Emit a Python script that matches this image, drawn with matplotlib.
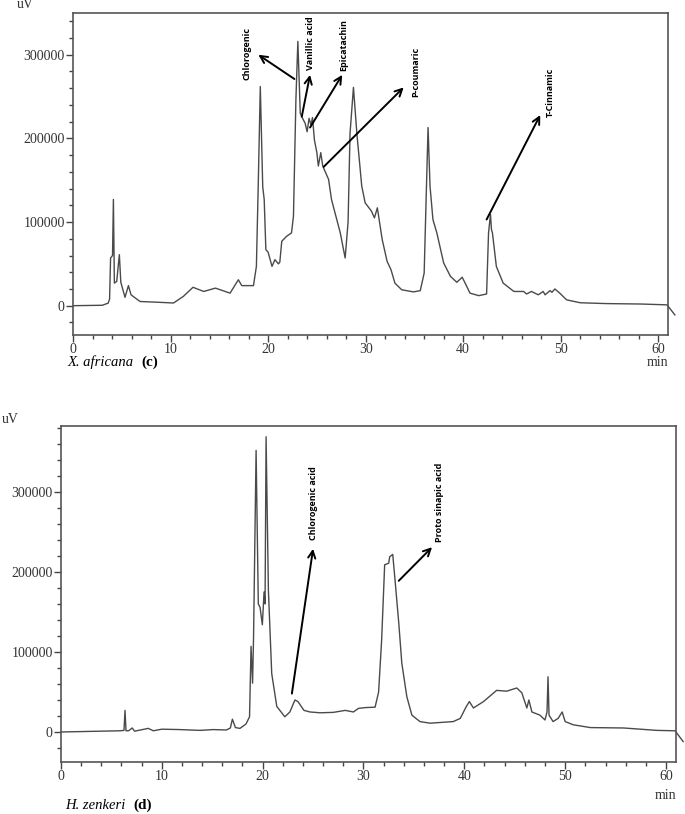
import numpy as np
import matplotlib
matplotlib.use("Agg")
import matplotlib.pyplot as plt

# X. africana (c) chromatogram (min, uV)
xa_time = [0, 3.0, 3.6, 3.75, 3.85, 4.05, 4.14, 4.24, 4.48, 4.75,
           4.9, 5.33, 5.68, 5.95, 6.87, 8.9, 10.3, 11.3, 12.3, 13.4,
           14.6, 16.1, 16.95, 17.3, 18.5, 18.8, 19.0, 19.2, 19.45, 19.6,
           19.77, 20.0, 20.4, 20.7, 21.06, 21.2, 21.4, 21.9, 22.4, 22.6,
           22.85, 23.05, 23.3, 23.45, 23.8, 24.0, 24.2, 24.4, 24.55, 24.75,
           25.0, 25.15, 25.4, 25.6, 26.2, 26.5, 27.4, 27.9, 28.2, 28.4,
           28.75, 29.1, 29.6, 29.95, 30.6, 30.9, 31.2, 31.7, 32.2, 32.6,
           33.0, 33.7, 34.9, 35.6, 36.0, 36.2, 36.4, 36.6, 36.9, 37.3,
           38.0, 38.7, 39.35, 39.9, 40.2, 40.7, 41.6, 42.4, 42.6, 42.8,
           42.9, 43.0, 43.4, 44.1, 45.2, 46.2, 46.5, 47.0, 47.7, 48.2,
           48.4, 48.9, 49.1, 49.4, 49.9, 50.6, 52.0, 54.7, 58.2, 60.9,
           61.7]
xa_uv = [0, 500, 3000, 8000, 57000, 60000, 127000, 27000, 29000, 61000,
         28000, 10000, 24000, 13000, 5000, 4000, 3200, 11000, 22000, 17000,
         21000, 15000, 31000, 24000, 24000, 47000, 150000, 262000, 142000, 127000,
         67000, 64000, 47000, 55000, 50000, 52000, 77000, 83000, 87000, 107000,
         246000, 316000, 230000, 226000, 218000, 208000, 224000, 216000, 225000, 198000,
         183000, 167000, 183000, 167000, 151000, 127000, 87000, 57000, 100000, 206000,
         261000, 206000, 143000, 123000, 113000, 105000, 117000, 79000, 53000, 43000,
         27000, 19000, 16500, 18000, 39000, 127000, 213000, 143000, 103000, 87000,
         51000, 35000, 28000, 34000, 27000, 15000, 12000, 14000, 87000, 109000,
         91000, 87000, 47000, 27000, 17000, 17000, 14000, 17000, 13000, 17000,
         13000, 18000, 16000, 20000, 15000, 7000, 3500, 2500, 2000, 1000,
         -11000]

# H. zenkeri (d) chromatogram
hz_time = [0, 5.85, 6.25, 6.35, 6.45, 6.7, 7.07, 7.3, 8.66, 9.16,
           10.0, 11.8, 13.8, 15.1, 16.4, 16.8, 17.0, 17.3, 17.75, 18.35,
           18.7, 18.85, 19.0, 19.1, 19.35, 19.57, 19.74, 19.97, 20.14, 20.24,
           20.34, 20.57, 20.9, 21.4, 22.2, 22.7, 23.2, 23.5, 24.1, 24.7,
           25.7, 27.0, 28.2, 29.0, 29.5, 30.2, 31.15, 31.5, 31.8, 32.1,
           32.5, 32.6, 32.9, 33.1, 33.5, 33.8, 34.3, 34.8, 35.6, 36.6,
           38.9, 39.6, 40.2, 40.5, 40.9, 41.9, 43.2, 44.2, 45.2, 45.7,
           46.2, 46.4, 46.7, 47.5, 48.0, 48.2, 48.3, 48.4, 48.8, 49.3,
           49.7, 50.0, 50.8, 52.5, 55.8, 59.1, 60.9, 61.7]
hz_uv = [0, 1500, 2000, 27000, 1500, 1500, 5000, 1000, 4500, 1500,
         3500, 3000, 2000, 3000, 2500, 5000, 16000, 5500, 4500, 10000,
         19000, 107000, 61000, 120000, 352000, 160000, 156000, 134000, 175000, 160000,
         369000, 177000, 73000, 32000, 19000, 25000, 40000, 38000, 27000, 25000,
         24000, 24500, 27000, 25000, 29500, 30500, 31000, 50000, 115000, 209000,
         211000, 219000, 222000, 194000, 136000, 86000, 44000, 21000, 13000, 11000,
         13000, 17000, 32000, 38000, 30000, 38000, 52000, 51000, 55000, 49000,
         30000, 40000, 25000, 21000, 15000, 25000, 69000, 21000, 13000, 17000,
         25000, 13000, 9000, 5500, 5000, 2000, 1500, -12000]

# compound labels: name, text position (min, uV), arrow tail, arrow head
xa_names = ['Chlorogenic', 'Vanillic acid', 'Epicatachin', 'P-coumaric', 'T-Cinnamic']
xa_text_pos = [(17.85, 270000), (24.3, 282000), (27.8, 280000), (35.1, 250000), (48.9, 225000)]
xa_tails = [(22.7, 271000), (23.45, 226000), (24.3, 213000), (25.7, 166000), (42.4, 103000)]
xa_heads = [(19.0, 300000), (24.3, 276000), (27.6, 276000), (33.9, 261000), (47.9, 228000)]

hz_names = ['Chlorogenic acid', 'Proto sinapic acid']
hz_text_pos = [(25.0, 240000), (37.5, 238000)]
hz_tails = [(22.9, 48000), (33.5, 189000)]
hz_heads = [(25.0, 229000), (36.8, 231000)]

serif = 'Liberation Serif'
line_col = '#4a4a4a'


def style_axes(ax, ylim, ymax_tick):
    ax.set_xlim(0, 61)
    ax.set_ylim(*ylim)
    ax.set_xticks(np.arange(0, 61, 10))
    ax.set_xticks(np.arange(0, 61, 2), minor=True)
    ax.set_yticks(np.arange(0, ymax_tick + 1, 100000))
    ax.set_yticks(np.arange(-20000, ylim[1], 20000), minor=True)
    ax.tick_params(which='both', direction='out', colors='#444444', width=1.0,
                   labelsize=10, pad=1)
    ax.tick_params(which='major', length=5)
    ax.tick_params(which='minor', length=3)
    for lab in ax.get_xticklabels() + ax.get_yticklabels():
        lab.set_fontfamily(serif)
        lab.set_color('#333333')
    for sp in ax.spines.values():
        sp.set_color('#555555')
        sp.set_linewidth(1.2)


def add_labels(ax, names, text_pos, tails, heads):
    for name, tp, tail, head in zip(names, text_pos, tails, heads):
        ax.text(tp[0], tp[1], name, rotation=90, ha='center', va='bottom',
                fontsize=6.5, fontweight='bold', family='Open Sans')
        ax.annotate('', xy=head, xytext=tail,
                    arrowprops=dict(arrowstyle='->', lw=1.4, color='black',
                                    mutation_scale=13, shrinkA=0, shrinkB=0))


def add_caption(fig, x, y, species, tag):
    t = fig.text(x, y, species, family=serif, style='italic', fontsize=10.5, va='center')
    fig.canvas.draw()
    bb = t.get_window_extent().transformed(fig.transFigure.inverted())
    fig.text(bb.x1 + 0.012, y, tag, family=serif, fontweight='bold', fontsize=11, va='center')


fig = plt.figure(figsize=(6.85, 8.14), dpi=100)

ax1 = fig.add_axes([0.1066, 0.5885, 0.8686, 0.3956])
ax1.plot(xa_time, xa_uv, color=line_col, lw=1.0, clip_on=False)
style_axes(ax1, (-35000, 350000), 300000)
add_labels(ax1, xa_names, xa_text_pos, xa_tails, xa_heads)

ax2 = fig.add_axes([0.089, 0.0639, 0.898, 0.4128])
ax2.plot(hz_time, hz_uv, color=line_col, lw=1.0, clip_on=False)
style_axes(ax2, (-37500, 382500), 300000)
add_labels(ax2, hz_names, hz_text_pos, hz_tails, hz_heads)

# unit labels and captions
fig.text(0.025, 0.994, 'uV', family=serif, fontsize=10, va='center', color='#333333')
fig.text(0.975, 0.555, 'min', family=serif, fontsize=10, va='center', ha='right', color='#333333')
fig.text(0.003, 0.485, 'uV', family=serif, fontsize=10, va='center', color='#333333')
fig.text(0.988, 0.023, 'min', family=serif, fontsize=10, va='center', ha='right', color='#333333')

add_caption(fig, 0.098, 0.555, 'X. africana', '(c)')
add_caption(fig, 0.095, 0.011, 'H. zenkeri', '(d)')

fig.savefig('out.png', dpi=100)
